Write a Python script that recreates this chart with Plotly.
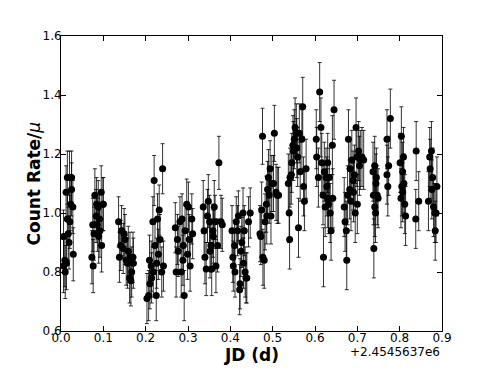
import plotly.graph_objects as go

# time is JD - 2454563.7 (days), rate is count rate / mean
t01 = [0.006, 0.006, 0.010, 0.012, 0.015, 0.020, 0.025, 0.023, 0.021, 0.017, 0.019, 0.029, 0.028, 0.025, 0.013, 0.009, 0.015]
r01 = [0.92, 0.82, 0.80, 1.07, 1.12, 1.12, 1.12, 1.03, 0.97, 0.93, 0.90, 0.86, 1.02, 1.08, 0.83, 0.84, 0.98]

t02 = [0.073, 0.076, 0.075, 0.080, 0.084, 0.088, 0.091, 0.092, 0.096, 0.100, 0.095, 0.083, 0.078, 0.086, 0.089, 0.099]
r02 = [0.85, 0.82, 0.96, 1.06, 1.03, 1.02, 0.98, 0.94, 0.89, 1.03, 1.07, 0.99, 0.93, 0.96, 0.92, 1.03]

t03 = [0.136, 0.138, 0.143, 0.147, 0.151, 0.154, 0.157, 0.159, 0.162, 0.165, 0.167, 0.170, 0.171, 0.141, 0.149, 0.163]
r03 = [0.97, 0.85, 0.94, 0.88, 0.91, 0.84, 0.83, 0.87, 0.78, 0.77, 0.80, 0.85, 0.83, 0.89, 0.93, 0.85]

t04 = [0.203, 0.207, 0.209, 0.210, 0.214, 0.217, 0.220, 0.222, 0.225, 0.226, 0.228, 0.230, 0.232, 0.234, 0.238, 0.240, 0.242, 0.218, 0.213]
r04 = [0.71, 0.72, 0.84, 0.76, 0.78, 0.97, 1.11, 0.89, 0.72, 0.83, 0.98, 0.86, 1.01, 0.91, 0.80, 1.15, 0.82, 0.80, 0.82]

t05 = [0.270, 0.272, 0.275, 0.277, 0.281, 0.284, 0.286, 0.289, 0.291, 0.293, 0.297, 0.301, 0.303, 0.305, 0.309, 0.311, 0.299, 0.288]
r05 = [0.95, 0.80, 0.91, 0.87, 0.97, 0.80, 0.98, 0.89, 0.72, 0.94, 1.03, 1.02, 0.91, 0.82, 0.98, 0.93, 0.86, 0.84]

t06 = [0.336, 0.338, 0.340, 0.343, 0.346, 0.348, 0.351, 0.354, 0.356, 0.359, 0.362, 0.364, 0.366, 0.370, 0.373, 0.378, 0.381, 0.352, 0.360]
r06 = [1.02, 0.94, 0.85, 0.81, 0.99, 1.04, 0.97, 0.89, 0.81, 0.94, 1.02, 0.97, 0.82, 0.89, 1.17, 0.97, 0.96, 0.87, 0.92]

t07 = [0.404, 0.406, 0.407, 0.410, 0.411, 0.414, 0.417, 0.419, 0.422, 0.423, 0.425, 0.427, 0.430, 0.431, 0.435, 0.437, 0.439, 0.443, 0.447, 0.433]
r07 = [0.94, 0.85, 0.82, 0.89, 0.80, 0.97, 0.94, 0.99, 0.74, 0.76, 0.87, 0.90, 1.00, 0.83, 0.80, 0.78, 0.78, 0.97, 1.00, 0.94]

t08 = [0.470, 0.472, 0.474, 0.476, 0.477, 0.480, 0.482, 0.485, 0.488, 0.490, 0.492, 0.494, 0.496, 0.498, 0.502, 0.504, 0.508, 0.511, 0.514, 0.486]
r08 = [0.93, 0.92, 1.01, 1.26, 0.85, 0.84, 0.97, 1.03, 1.08, 1.12, 1.06, 1.15, 0.99, 1.10, 1.10, 1.27, 1.07, 1.06, 1.06, 0.99]

t09 = [0.537, 0.539, 0.540, 0.541, 0.545, 0.548, 0.551, 0.553, 0.556, 0.557, 0.559, 0.561, 0.563, 0.565, 0.569, 0.571, 0.573, 0.575, 0.579, 0.549, 0.544]
r09 = [1.10, 1.00, 0.91, 1.12, 1.17, 1.23, 1.25, 1.29, 1.27, 1.22, 1.19, 0.95, 1.27, 1.14, 1.25, 1.36, 1.09, 1.04, 1.15, 1.21, 1.13]

t10 = [0.603, 0.604, 0.608, 0.611, 0.614, 0.616, 0.619, 0.620, 0.622, 0.624, 0.626, 0.628, 0.630, 0.632, 0.634, 0.636, 0.638, 0.641, 0.642, 0.645, 0.630]
r10 = [1.25, 1.19, 1.12, 1.41, 1.29, 1.17, 1.06, 0.85, 1.14, 1.02, 1.12, 1.09, 1.05, 1.03, 1.12, 1.00, 0.94, 1.23, 1.05, 1.35, 1.17]

t11 = [0.669, 0.671, 0.674, 0.675, 0.677, 0.679, 0.682, 0.683, 0.685, 0.687, 0.690, 0.691, 0.693, 0.695, 0.697, 0.699, 0.700, 0.703, 0.705, 0.707, 0.711, 0.715]
r11 = [1.02, 0.97, 0.94, 0.84, 1.06, 1.25, 1.08, 1.15, 1.04, 1.18, 1.11, 1.07, 1.13, 1.00, 1.29, 1.19, 1.03, 1.21, 1.16, 1.18, 1.19, 1.18]

t12 = [0.737, 0.738, 0.739, 0.741, 0.743, 0.744, 0.745, 0.747, 0.749, 0.741]
r12 = [1.14, 1.06, 0.88, 1.16, 1.00, 1.10, 1.12, 1.06, 1.05, 1.02]

t13 = [0.770, 0.778, 0.774, 0.770, 0.772]
r13 = [1.25, 1.32, 1.16, 1.13, 1.09]

t14 = [0.801, 0.803, 0.804, 0.805, 0.807, 0.809, 0.810, 0.812, 0.814, 0.807]
r14 = [1.17, 1.05, 1.26, 1.09, 1.14, 1.19, 1.10, 1.03, 0.99, 1.07]

t15 = [0.839, 0.845, 0.838]
r15 = [1.21, 1.04, 0.98]

t16 = [0.868, 0.871, 0.872, 0.875, 0.876, 0.878, 0.880, 0.883, 0.884, 0.886, 0.888]
r16 = [1.04, 1.19, 1.15, 1.21, 1.08, 1.12, 1.02, 1.00, 0.94, 1.00, 1.09]

# typical 1-sigma error for each block of points
group_err = [0.09, 0.09, 0.085, 0.085, 0.085, 0.09, 0.085, 0.095,
             0.10, 0.10, 0.10, 0.10, 0.10, 0.10, 0.10, 0.10]

x_ticks = [0.0, 0.1, 0.2, 0.3, 0.4, 0.5, 0.6, 0.7, 0.8, 0.9]
y_ticks = [0.6, 0.8, 1.0, 1.2, 1.4, 1.6]

groups = [(t01, r01), (t02, r02), (t03, r03), (t04, r04), (t05, r05), (t06, r06),
          (t07, r07), (t08, r08), (t09, r09), (t10, r10), (t11, r11), (t12, r12),
          (t13, r13), (t14, r14), (t15, r15), (t16, r16)]

xs, ys, es = [], [], []
for (t, r), e in zip(groups, group_err):
    xs += t
    ys += r
    es += [e] * len(r)

fig = go.Figure()
fig.add_trace(go.Scatter(
    x=xs, y=ys, mode="markers",
    marker=dict(color="black", size=7, line=dict(width=0)),
    error_y=dict(type="data", array=es, visible=True, color="rgba(0,0,0,0.8)",
                 thickness=1, width=2),
    showlegend=False,
))

axis_common = dict(
    showline=True, linecolor="black", linewidth=1, mirror="allticks",
    ticks="inside", ticklen=5, tickwidth=1, tickcolor="black",
    showgrid=False, zeroline=False, ticklabelstandoff=-4,
    tickfont=dict(family="DejaVu Sans", size=12, color="black"),
)

fig.update_xaxes(range=[0, 0.9], tickvals=x_ticks,
                 ticktext=[f"{v:.1f}" for v in x_ticks], **axis_common)
fig.update_yaxes(range=[0.6, 1.6], tickvals=y_ticks,
                 ticktext=[f"{v:.1f}" for v in y_ticks], **axis_common)

fig.add_annotation(text="<b>JD (d)</b>", xref="paper", yref="paper", x=0.5, y=0,
                   yshift=-24, showarrow=False, yanchor="middle",
                   font=dict(family="DejaVu Sans", size=17, color="black"))
fig.add_annotation(text="+2.4545637e6", xref="paper", yref="paper", x=1, y=0,
                   xanchor="right", yanchor="middle", yshift=-21, showarrow=False,
                   font=dict(family="DejaVu Sans", size=12, color="black"))
fig.add_annotation(text="<b>Count Rate/</b><i>μ</i>", xref="paper", yref="paper",
                   x=0, y=0.5, xshift=-28, textangle=-90, showarrow=False,
                   xanchor="center", yanchor="middle",
                   font=dict(family="DejaVu Sans", size=17, color="black"))

# the page body adds 8px at the top/left, so the figure is 8px smaller
fig.update_layout(
    width=483, height=360,
    margin=dict(l=53, r=49, t=28, b=37),
    paper_bgcolor="white", plot_bgcolor="white",
)

fig.write_html("out.html")
